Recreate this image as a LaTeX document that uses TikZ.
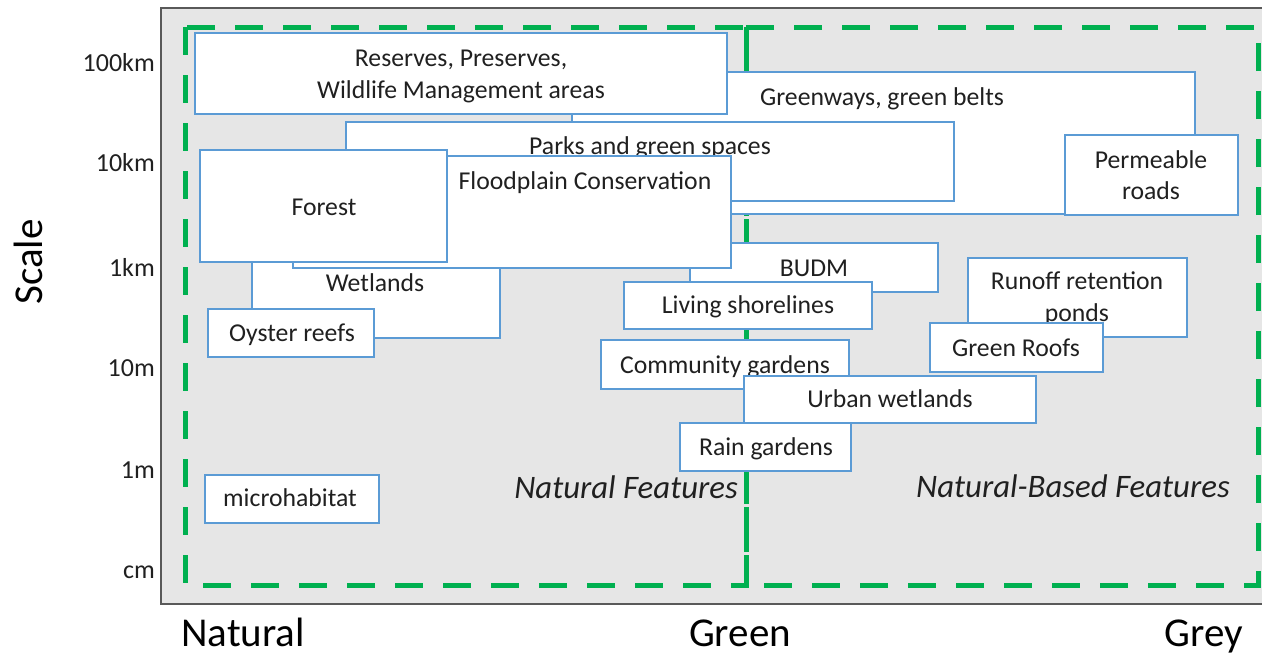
\documentclass[tikz,border=0pt]{standalone}
\usepackage{fontspec}
\setmainfont{Carlito}
\definecolor{panelgray}{HTML}{E6E6E6}
\definecolor{panelborder}{HTML}{595959}
\definecolor{nbsgreen}{HTML}{00B050}
\definecolor{boxblue}{HTML}{5B9BD5}
\definecolor{txtgray}{HTML}{202020}
\begin{document}
\begin{tikzpicture}[x=1pt,y=-1pt,
  box/.style n args={2}{draw=boxblue, fill=white, line width=1.3pt, inner sep=0pt, minimum width=#1, minimum height=#2},
  boxtxt/.style={font=\fontsize{25.7}{31}\selectfont, text=txtgray, anchor=mid, inner sep=0pt, yshift=-6pt},
  tick/.style={font=\fontsize{26}{31}\selectfont, text=txtgray, anchor=mid east, inner sep=0pt, yshift=-6pt},
  axislab/.style={font=\fontsize{41}{48}\selectfont, text=black, anchor=mid, inner sep=0pt},
  zonelab/.style={font=\fontsize{32.8}{38}\selectfont\itshape, text=txtgray, inner sep=0pt, yshift=-8pt},
  zonedash/.style={draw=nbsgreen, line width=5pt, dash pattern=on 28pt off 20pt}]
\useasboundingbox (0,0) rectangle (1262,657);
% panel
\draw[fill=panelgray, draw=panelborder, line width=2.2pt] (161,8) rectangle (1266,604);
% zones
\draw[zonedash] (185,27) rectangle (746,585);
\draw[zonedash] (746,27) rectangle (1258,585);
% boxes
\node[box={623}{142}] (greenways) at (883.5,143) {};
\node[boxtxt] (tgreenways) at (882,97) {Greenways, green belts};
\node[box={532}{81}] (reserves) at (461,73.5) {};
\node[boxtxt] (treserves1) at (461,58) {Reserves, Preserves,};
\node[boxtxt] (treserves2) at (461,90) {Wildlife Management areas};
\node[box={608}{79}] (parks) at (650,161.5) {};
\node[boxtxt] (tparks) at (650,146) {Parks and green spaces};
\node[box={173}{80}] (permeable) at (1151.5,175) {};
\node[boxtxt] (tpermeable1) at (1151,160) {Permeable};
\node[boxtxt] (tpermeable2) at (1151,191) {roads};
\node[box={248}{108}] (wetlands) at (376,284) {};
\node[boxtxt] (twetlands) at (375,283) {Wetlands};
\node[box={248}{49}] (budm) at (814,267.5) {};
\node[boxtxt] (tbudm) at (814,268) {BUDM};
\node[box={438}{112}] (floodplain) at (512,212) {};
\node[boxtxt] (tfloodplain) at (585,181) {Floodplain Conservation};
\node[box={247}{112}] (forest) at (323.5,206) {};
\node[boxtxt] (tforest) at (324,207) {Forest};
\node[box={166}{48}] (oyster) at (291,333) {};
\node[boxtxt] (toyster) at (292,333) {Oyster reefs};
\node[box={248}{47}] (living) at (748,305.5) {};
\node[boxtxt] (tliving) at (748,305) {Living shorelines};
\node[box={219}{79}] (runoff) at (1077.5,297.5) {};
\node[boxtxt] (trunoff1) at (1077,281) {Runoff retention};
\node[boxtxt] (trunoff2) at (1077,313) {ponds};
\node[box={173}{49}] (greenroofs) at (1016.5,347.5) {};
\node[boxtxt] (tgreenroofs) at (1016,348) {Green Roofs};
\node[box={248}{49}] (community) at (725,364.5) {};
\node[boxtxt] (tcommunity) at (725,365) {Community gardens};
\node[box={292}{47}] (urban) at (890,399.5) {};
\node[boxtxt] (turban) at (890,399) {Urban wetlands};
\node[box={171}{48}] (rain) at (765.5,447) {};
\node[boxtxt] (train) at (766,447) {Rain gardens};
\node[box={174}{48}] (micro) at (292,499) {};
\node[boxtxt] (tmicro) at (290,498) {microhabitat};
% zone labels
\node[zonelab, anchor=mid east] (natfeat) at (738,488) {Natural Features};
\node[zonelab, anchor=mid west] (nbfeat) at (916,487) {Natural-Based Features};
% ticks
\node[tick] (t100km) at (155,63) {100km};
\node[tick] (t10km) at (155,163) {10km};
\node[tick] (t1km) at (155,268) {1km};
\node[tick] (t10m) at (155,368) {10m};
\node[tick] (t1m) at (155,470) {1m};
\node[tick] (tcm) at (155,570) {cm};
% axes
\node[axislab, rotate=90] (scale) at (40,262) {Scale};
\node[axislab] (natural) at (243,644) {Natural};
\node[axislab] (green) at (740,644) {Green};
\node[axislab] (grey) at (1204,644) {Grey};
\end{tikzpicture}
\end{document}
